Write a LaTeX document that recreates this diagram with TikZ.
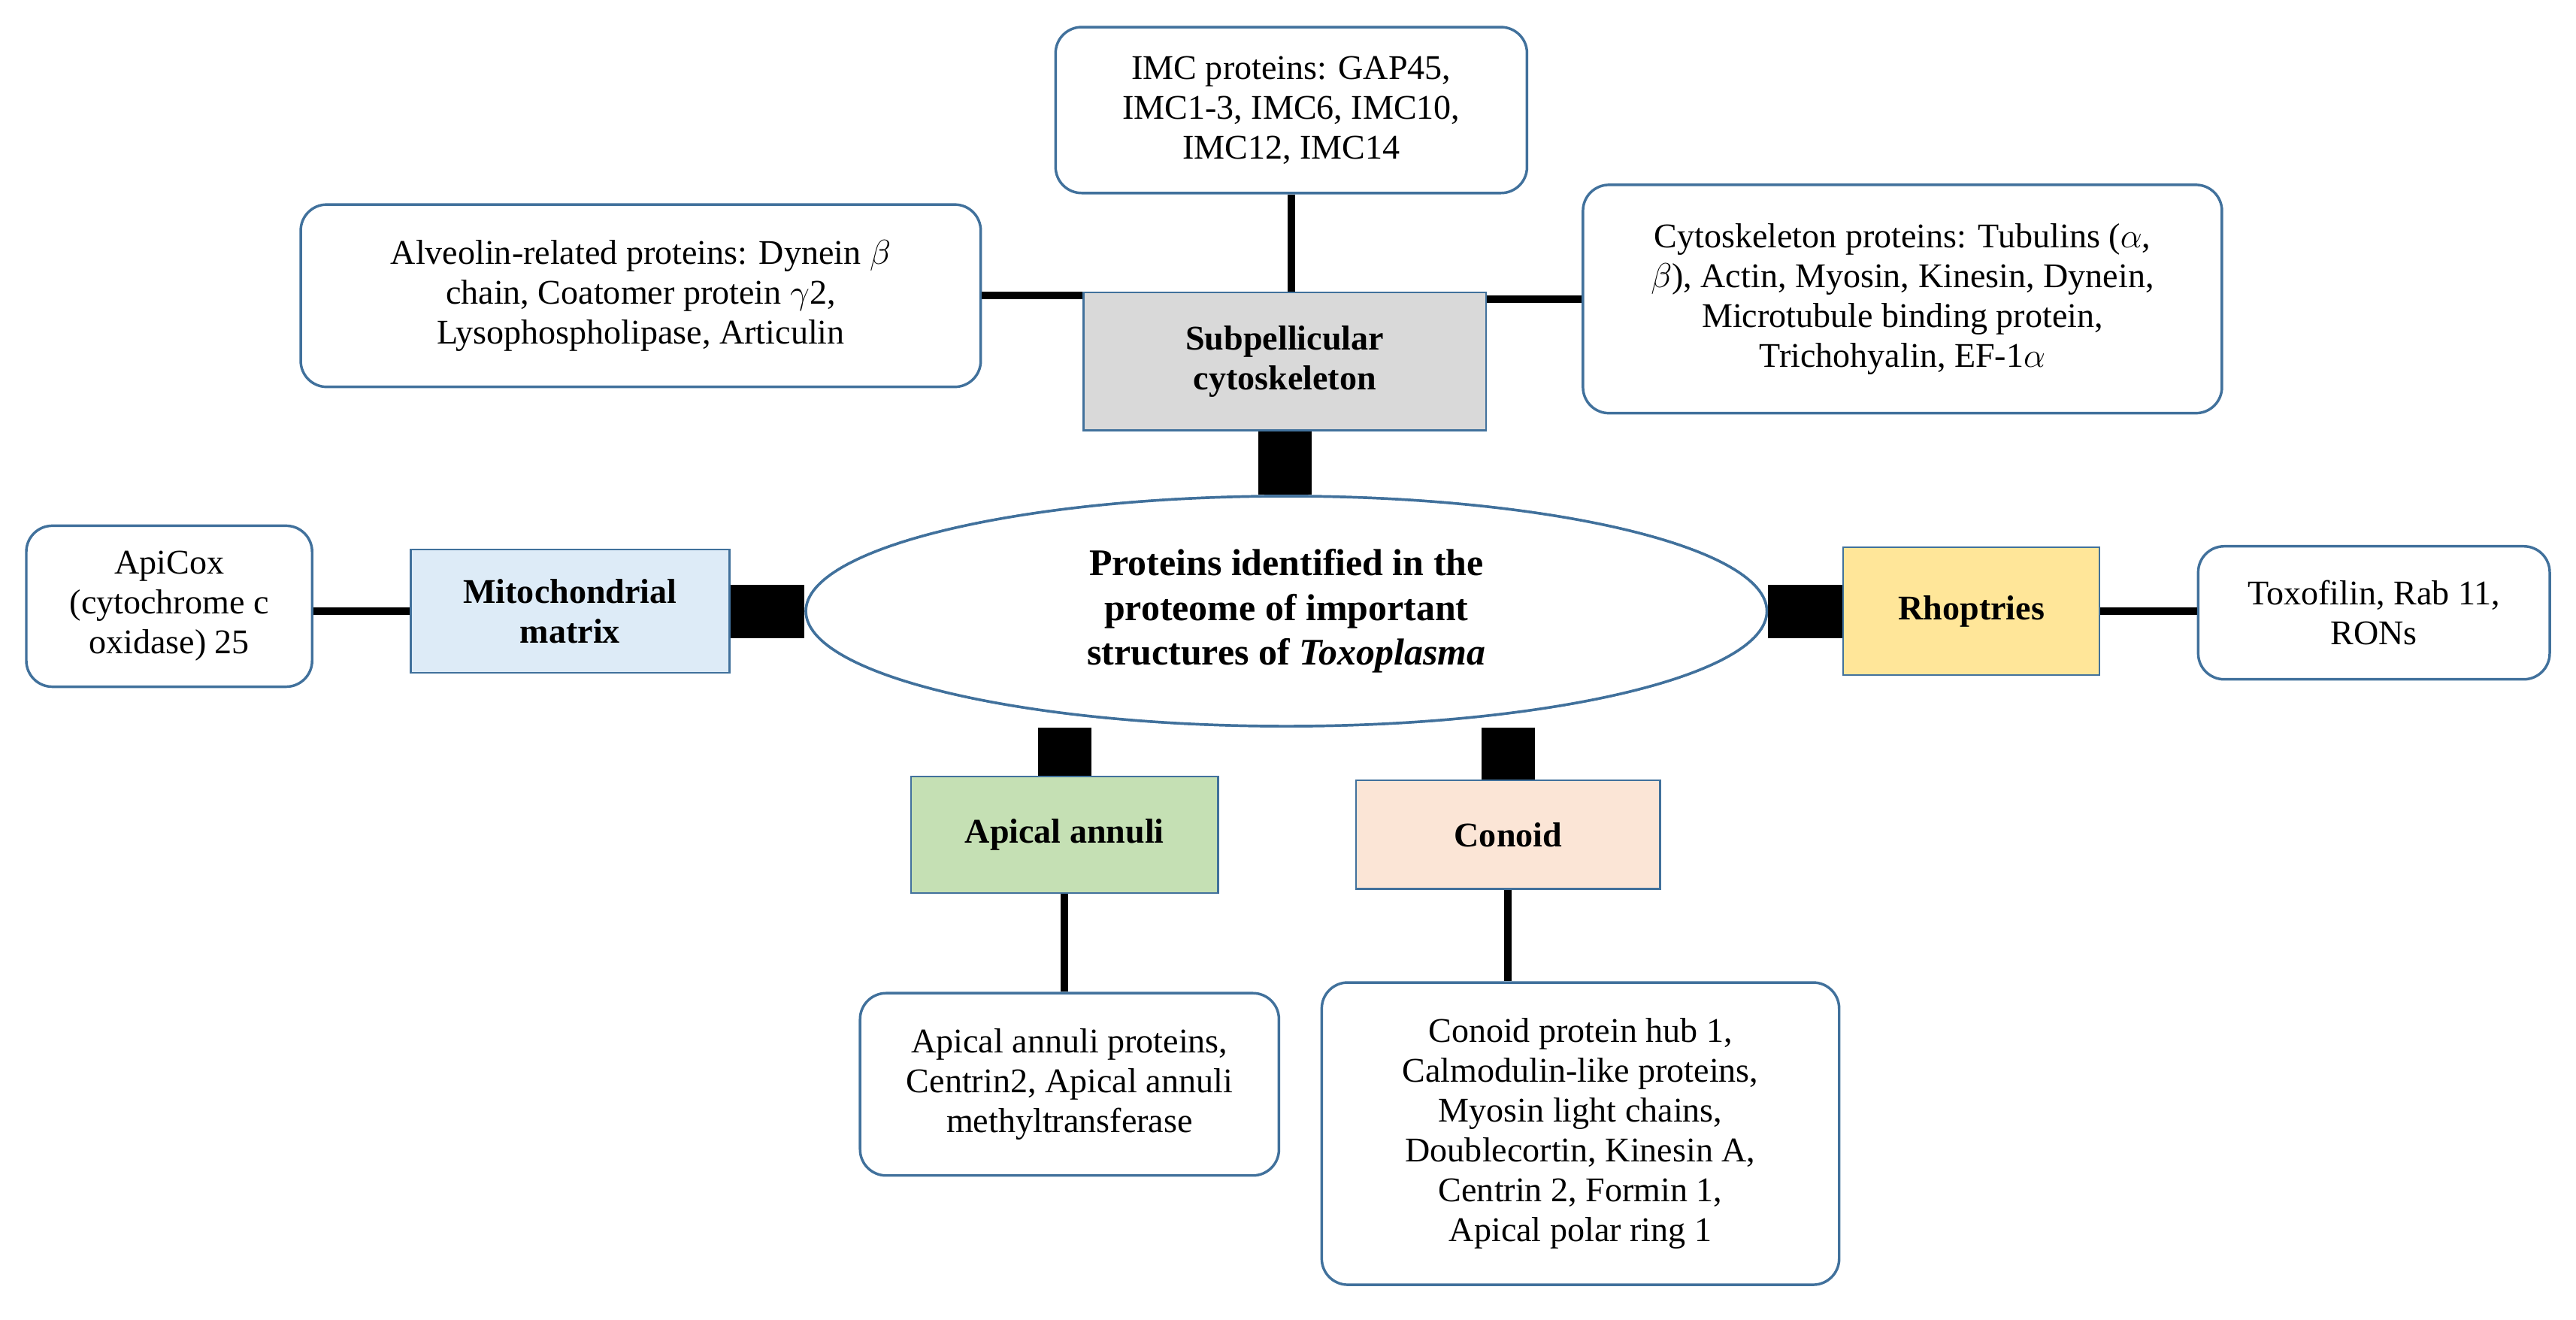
\documentclass[tikz,border=0pt]{standalone}
\usepackage{fontspec}
\setmainfont{Liberation Serif}
\usetikzlibrary{positioning,shapes.geometric}
\definecolor{boxline}{HTML}{41719C}
\definecolor{subgray}{HTML}{D9D9D9}
\definecolor{mitoblue}{HTML}{DDEBF7}
\definecolor{rhoyellow}{HTML}{FFE699}
\definecolor{apigreen}{HTML}{C5E0B4}
\definecolor{conpeach}{HTML}{FBE5D6}
\begin{document}
\begin{tikzpicture}[x=0.02cm,y=-0.02cm,
  info/.style={draw=boxline,line width=0.9pt,rounded corners=9pt,fill=white,
    align=center,font=\fontsize{12}{13.8}\selectfont,inner sep=2pt},
  part/.style={draw=boxline,line width=0.6pt,align=center,
    font=\fontsize{12}{13.8}\selectfont\bfseries,inner sep=2pt},
  hub/.style={ellipse,draw=boxline,line width=0.9pt,fill=white,minimum width=11.7cm,
    minimum height=2.8cm,align=center,font=\fontsize{13}{15.5}\selectfont\bfseries},
  thin/.style={line width=2.6pt},
  thick/.style={line width=0.65cm}]

  \useasboundingbox (0,0) rectangle (1568,803);

  % centre and structures
  \node[hub] (core) at (783,372) {};
  \node[part,fill=subgray,minimum width=4.9cm,minimum height=1.68cm] (sub) at (782,220)
    {Subpellicular\\cytoskeleton};
  \node[part,fill=mitoblue,minimum width=3.88cm,minimum height=1.5cm] (mito) at (347,372)
    {Mitochondrial\\matrix};
  \node[part,fill=rhoyellow,minimum width=3.12cm,minimum height=1.56cm] (rho) at (1200,372)
    {Rhoptries};
  \node[part,fill=apigreen,minimum width=3.74cm,minimum height=1.42cm] (annuli) at (648,508)
    {Apical annuli};
  \node[part,fill=conpeach,minimum width=3.7cm,minimum height=1.32cm] (conoid) at (918,508)
    {Conoid};

  % protein lists
  \node[info,minimum width=5.74cm,minimum height=2.02cm] (imc) at (786,67)
    {IMC proteins: GAP45,\\IMC1-3, IMC6, IMC10,\\IMC12, IMC14};
  \node[info,minimum width=8.28cm,minimum height=2.22cm] (alveolin) at (390,180)
    {Alveolin-related proteins: Dynein $\beta$\\chain, Coatomer protein $\gamma$2,\\
    Lysophospholipase, Articulin};
  \node[info,minimum width=7.78cm,minimum height=2.78cm] (cyto) at (1158,182)
    {Cytoskeleton proteins: Tubulins ($\alpha$,\\$\beta$), Actin, Myosin, Kinesin, Dynein,\\
    Microtubule binding protein,\\Trichohyalin, EF-1$\alpha$};
  \node[info,minimum width=3.48cm,minimum height=1.96cm] (apicox) at (103,369)
    {ApiCox\\(cytochrome c\\oxidase) 25};
  \node[info,minimum width=4.28cm,minimum height=1.62cm] (toxo) at (1445,373)
    {Toxofilin, Rab 11,\\RONs};
  \node[info,minimum width=5.1cm,minimum height=2.22cm] (annprot) at (651,660)
    {Apical annuli proteins,\\Centrin2, Apical annuli\\methyltransferase};
  \node[info,minimum width=6.3cm,minimum height=3.68cm] (conprot) at (962,690)
    {Conoid protein hub 1,\\Calmodulin-like proteins,\\Myosin light chains,\\
    Doublecortin, Kinesin A,\\Centrin 2, Formin 1,\\Apical polar ring 1};

  % connectors
  \draw[thin] (sub.west |- alveolin.east) -- (alveolin.east);
  \draw[thin] (sub.east |- cyto.west) -- (cyto.west);
  \draw[thin] (sub.north -| imc.south) -- (imc.south);
  \draw[thin] (mito.west) -- (mito.west -| apicox.east);
  \draw[thin] (rho.east) -- (rho.east -| toxo.west);
  \draw[thin] (annuli.south) -- (annuli.south |- annprot.north);
  \draw[thin] (conoid.south) -- (conoid.south |- conprot.north);
  \draw[thick] (sub.south) -- (sub.south |- core.north);
  \draw[thick] (mito.east) -- (core.west);
  \draw[thick] (core.east) -- (rho.west);
  \draw[thick] (annuli.north) -- (annuli.north |- core.south);
  \draw[thick] (conoid.north) -- (conoid.north |- core.south);

  % hub drawn over the connector ends
  \node[hub] at (core) {Proteins identified in the\\proteome of important\\
    structures of \textit{Toxoplasma}};
\end{tikzpicture}
\end{document}
